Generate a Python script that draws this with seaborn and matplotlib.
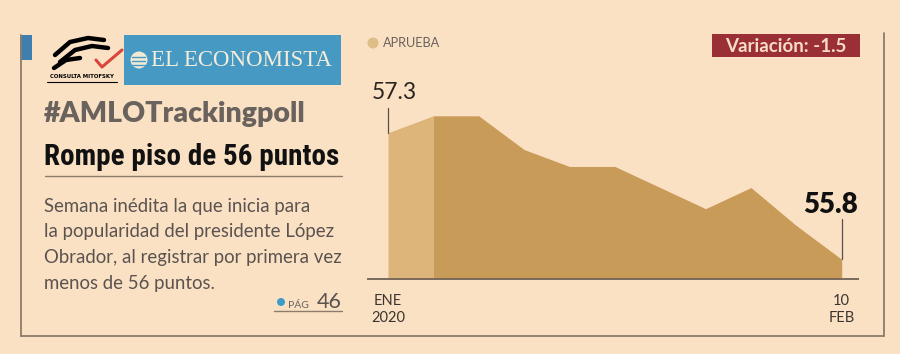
import matplotlib
matplotlib.use("Agg")
import matplotlib.pyplot as plt
from matplotlib.patches import Rectangle, Ellipse
from matplotlib.lines import Line2D
import seaborn as sns
import pandas as pd

# datos (aprobacion semanal)
semanas = list(range(11))
aprueba = [57.3, 57.5, 57.5, 57.1, 56.9, 56.9, 56.65, 56.4, 56.65, 56.2, 55.8]
xlabels = ["ENE\n2020", "10\nFEB"]
variacion = "Variación: -1.5"
texto = ["Semana inédita la que inicia para",
         "la popularidad del presidente López",
         "Obrador, al registrar por primera vez",
         "menos de 56 puntos."]

BG = "#FBE1C4"
DARK = "#C99B59"
LIGHT = "#DDB57B"
FRAME = "#8D7C6C"

sns.set_theme(style="white", rc={"axes.facecolor": BG, "figure.facecolor": BG})
plt.rcParams["font.family"] = ["Lato", "DejaVu Sans"]

W, H = 900, 354
fig = plt.figure(figsize=(9, 3.54), dpi=100)


def fx(x):
    return x / W


def fy(y):
    return 1 - y / H


def fline(x0, y0, x1, y1, color=FRAME, lw=1.3):
    fig.add_artist(Line2D([fx(x0), fx(x1)], [fy(y0), fy(y1)], color=color,
                          lw=lw, transform=fig.transFigure))


def frect(x0, y0, x1, y1, color):
    fig.add_artist(Rectangle((fx(x0), fy(y1)), fx(x1) - fx(x0), fy(y0) - fy(y1),
                             color=color, transform=fig.transFigure, lw=0))


def fdot(x, y, r, color):
    fig.add_artist(Ellipse((fx(x), fy(y)), 2 * r / W, 2 * r / H, color=color,
                           transform=fig.transFigure, lw=0))


# marco
fline(21, 35, 21, 336)
fline(21, 336, 884, 336)
fline(884, 33, 884, 336)
frect(20, 35, 32, 60, "#3F7FB0")

# logo mitofsky (aproximado)
for seg in [[(55, 55), (70, 42), (88, 38), (104, 40)],
            [(60, 62), (75, 50), (92, 46), (108, 48)],
            [(54, 68), (66, 60), (80, 58)]]:
    xs, ys = zip(*seg)
    fig.add_artist(Line2D([fx(v) for v in xs], [fy(v) for v in ys], color="black",
                          lw=3.2, solid_capstyle="round", transform=fig.transFigure))
fig.add_artist(Line2D([fx(96), fx(102), fx(122)], [fy(60), fy(67), fy(50)],
                      color="#D8453A", lw=2.2, transform=fig.transFigure))
fig.text(fx(82), fy(77), "CONSULTA MITOFSKY", fontsize=4.3, fontweight="bold",
         ha="center", va="center", color="black",
         family="DejaVu Sans", fontstretch="condensed")
fline(47, 82, 117, 82, color="black", lw=0.8)

# logo el economista
frect(124, 35, 341, 85, "#4599C2")
fdot(139, 60, 8.5, "#F2EAD6")
for yy in (57, 61, 65):
    fline(132, yy, 145, yy, color="#4599C2", lw=1.0)
fig.text(fx(151), fy(60), "EL ECONOMISTA", fontsize=16.5, color="#F4ECDA",
         ha="left", va="center", family=["Liberation Serif", "DejaVu Serif"])

# titulos
fig.text(fx(44), fy(122), "#AMLOTrackingpoll", fontsize=20.5, fontweight="heavy",
         color="#6A625D", ha="left", va="baseline")
fig.text(fx(44), fy(165), "Rompe piso de 56 puntos", fontsize=21, fontweight="bold",
         color="#111111", ha="left", va="baseline",
         family=["Roboto Condensed", "DejaVu Sans"], fontstretch="condensed")
fline(45, 176, 342, 176, lw=1.0)
for i, linea in enumerate(texto):
    fig.text(fx(44), fy(212 + i * 25.5), linea, fontsize=13.4, color="#5A5350",
             ha="left", va="baseline")

# referencia de pagina
fdot(281, 302, 4, "#3E9BC8")
fig.text(fx(288), fy(308), "PÁG", fontsize=7.5, color="#6A625D", ha="left", va="baseline")
fig.text(fx(342), fy(308), "46", fontsize=15.5, color="#5A5350", ha="right", va="baseline")
fline(274, 311, 342, 311, lw=1.0)

# leyenda y variacion
fdot(373, 43, 5.5, "#DEBE86")
fig.text(fx(383), fy(43), "APRUEBA", fontsize=9.2, color="#6A625D", ha="left", va="center")
frect(712, 34, 860, 57, "#9A2F35")
fig.text(fx(786), fy(46), variacion, fontsize=13.5, fontweight="bold", color="#F7DCC8",
         ha="center", va="center")

# grafico de area
px = 45.37
ax = fig.add_axes([fx(368), fy(279), (858 - 368) / W, (279 - 60) / H])
df = pd.DataFrame({"semana": semanas, "aprueba": aprueba})
ymin = 55.567
ax.fill_between(df["semana"][:2], df["aprueba"][:2], ymin, color=LIGHT, lw=0)
ax.fill_between(df["semana"][1:], df["aprueba"][1:], ymin, color=DARK, lw=0)
sns.lineplot(data=df, x="semana", y="aprueba", ax=ax, color=DARK, lw=0)
ax.set_xlim(-20 / px, 10 + 16.3 / px)
ax.set_ylim(ymin, 58.161)

for s in ["top", "left", "right"]:
    ax.spines[s].set_visible(False)
ax.spines["bottom"].set_color("#7A6A5C")
ax.spines["bottom"].set_linewidth(1.4)
ax.set_yticks([])
ax.set_xticks([semanas[0], semanas[-1]])
ax.set_xticklabels(xlabels, fontsize=10.5, color="#3A3330", linespacing=1.25)
ax.tick_params(axis="x", length=0, pad=11)
ax.set_xlabel("")
ax.set_ylabel("")

# anotaciones
ax.plot([0, 0], [aprueba[0], aprueba[0] + 25 / 84.4], color="#555049", lw=0.9)
ax.text(-16 / px, aprueba[0] + 33.7 / 84.4, f"{aprueba[0]:.1f}", fontsize=16.5,
        color="#2A2522", ha="left", va="baseline")
ax.plot([10, 10], [aprueba[-1], aprueba[-1] + 40 / 84.4], color="#555049", lw=0.9)
ax.text(10 + 16 / px, aprueba[-1] + 46.3 / 84.4, f"{aprueba[-1]:.1f}", fontsize=20,
        fontweight="heavy", color="#111111", ha="right", va="baseline")

fig.savefig("out.png", dpi=100, facecolor=BG)
